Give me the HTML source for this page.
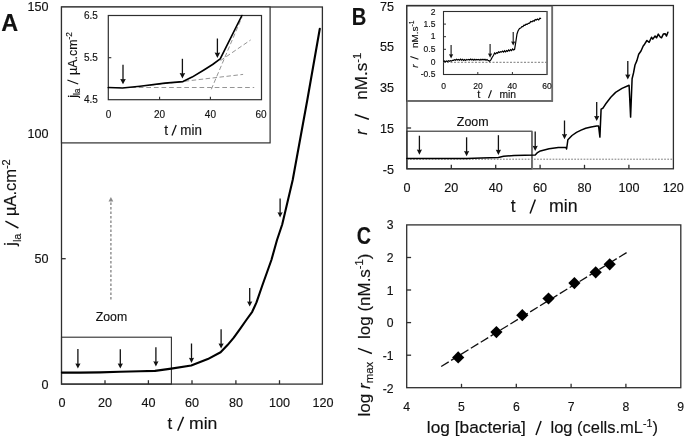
<!DOCTYPE html>
<html><head><meta charset="utf-8"><style>
html,body{margin:0;padding:0;background:#fff;}
body{width:685px;height:438px;overflow:hidden;}
svg{display:block;font-family:"Liberation Sans", sans-serif;filter:grayscale(1);}
text{stroke:#111;stroke-width:0.15px;paint-order:stroke;}
</style></head><body>
<svg width="685" height="438" viewBox="0 0 685 438">
<rect x="0" y="0" width="685" height="438" fill="#fff"/>
<rect x="61.50" y="7.00" width="260.90" height="377.10" fill="none" stroke="#2e2e2e" stroke-width="1.3"/>
<line x1="61.50" y1="133.00" x2="65.70" y2="133.00" stroke="#2e2e2e" stroke-width="1.3" stroke-linecap="butt"/>
<line x1="61.50" y1="258.70" x2="65.70" y2="258.70" stroke="#2e2e2e" stroke-width="1.3" stroke-linecap="butt"/>
<line x1="105.00" y1="384.10" x2="105.00" y2="380.20" stroke="#2e2e2e" stroke-width="1.3" stroke-linecap="butt"/>
<line x1="148.40" y1="384.10" x2="148.40" y2="380.20" stroke="#2e2e2e" stroke-width="1.3" stroke-linecap="butt"/>
<line x1="192.00" y1="384.10" x2="192.00" y2="380.20" stroke="#2e2e2e" stroke-width="1.3" stroke-linecap="butt"/>
<line x1="235.90" y1="384.10" x2="235.90" y2="380.20" stroke="#2e2e2e" stroke-width="1.3" stroke-linecap="butt"/>
<line x1="279.50" y1="384.10" x2="279.50" y2="380.20" stroke="#2e2e2e" stroke-width="1.3" stroke-linecap="butt"/>
<text x="48.40" y="11.41" font-size="12.6" text-anchor="end" fill="#111">150</text>
<text x="48.40" y="138.11" font-size="12.6" text-anchor="end" fill="#111">100</text>
<text x="48.40" y="262.81" font-size="12.6" text-anchor="end" fill="#111">50</text>
<text x="48.40" y="388.91" font-size="12.6" text-anchor="end" fill="#111">0</text>
<text x="61.90" y="406.81" font-size="12.6" text-anchor="middle" fill="#111">0</text>
<text x="105.00" y="406.81" font-size="12.6" text-anchor="middle" fill="#111">20</text>
<text x="148.40" y="406.81" font-size="12.6" text-anchor="middle" fill="#111">40</text>
<text x="192.00" y="406.81" font-size="12.6" text-anchor="middle" fill="#111">60</text>
<text x="235.90" y="406.81" font-size="12.6" text-anchor="middle" fill="#111">80</text>
<text x="279.50" y="406.81" font-size="12.6" text-anchor="middle" fill="#111">100</text>
<text x="323.00" y="406.81" font-size="12.6" text-anchor="middle" fill="#111">120</text>
<text id="Ax_t" x="167.40" y="429.30" font-size="17" fill="#111">t</text>
<line x1="177.70" y1="430.80" x2="183.50" y2="416.90" stroke="#111" stroke-width="1.5" stroke-linecap="butt"/>
<text id="Ax_min" x="189.02" y="429.30" font-size="17" fill="#111" textLength="28.42" lengthAdjust="spacingAndGlyphs">min</text>
<text id="Ay_j" x="0" y="0" transform="translate(16.30,245.64) rotate(-90)" font-size="16.5" fill="#111" textLength="12.10" lengthAdjust="spacingAndGlyphs">j<tspan font-size="11.5" dy="4.3">la</tspan></text>
<line x1="18.40" y1="228.00" x2="5.40" y2="221.10" stroke="#111" stroke-width="1.5" stroke-linecap="butt"/>
<text id="Ay_u" x="0" y="0" transform="translate(16.30,216.11) rotate(-90)" font-size="16.5" fill="#111" textLength="56.84" lengthAdjust="spacingAndGlyphs">µA.cm<tspan font-size="11" dy="-6.5">-2</tspan></text>
<text id="A_let" x="1.20" y="30.80" font-size="24" font-weight="bold" fill="#111" textLength="16.92" lengthAdjust="spacingAndGlyphs">A</text>
<text id="A_zoom" x="95.78" y="321.00" font-size="12.6" fill="#111" textLength="31.42" lengthAdjust="spacingAndGlyphs">Zoom</text>
<line x1="110.90" y1="299.40" x2="110.90" y2="202.00" stroke="#8a8a8a" stroke-width="1.4" stroke-linecap="butt" stroke-dasharray="2.5 2"/>
<polygon points="108.5,201.4 113.3,201.4 110.9,196.9" fill="#8a8a8a"/>
<rect x="61.50" y="337.20" width="109.90" height="46.90" fill="none" stroke="#2e2e2e" stroke-width="1.1"/>
<polyline points="61.90,372.60 80.00,372.60 100.00,372.40 120.00,371.80 140.00,371.30 155.00,370.90 171.30,368.60 191.20,365.50 207.80,359.10 220.60,352.30 227.50,345.10 233.80,337.60 240.10,328.80 246.30,320.00 252.20,311.80 256.50,302.40 262.30,285.50 271.40,260.00 277.00,240.00 282.20,224.50 292.70,180.00 307.30,100.00 319.80,28.80" fill="none" stroke="#000" stroke-width="2.1" stroke-linejoin="round" stroke-linecap="round"/>
<line x1="77.90" y1="349.10" x2="77.90" y2="365.48" stroke="#111" stroke-width="1.3" stroke-linecap="butt"/>
<polygon points="75.30,363.40 77.90,363.82 80.50,363.40 77.90,368.60" fill="#111"/>
<line x1="120.30" y1="349.20" x2="120.30" y2="365.48" stroke="#111" stroke-width="1.3" stroke-linecap="butt"/>
<polygon points="117.70,363.40 120.30,363.82 122.90,363.40 120.30,368.60" fill="#111"/>
<line x1="155.90" y1="347.20" x2="155.90" y2="363.38" stroke="#111" stroke-width="1.3" stroke-linecap="butt"/>
<polygon points="153.30,361.30 155.90,361.72 158.50,361.30 155.90,366.50" fill="#111"/>
<line x1="191.50" y1="343.50" x2="191.50" y2="359.88" stroke="#111" stroke-width="1.3" stroke-linecap="butt"/>
<polygon points="188.90,357.80 191.50,358.22 194.10,357.80 191.50,363.00" fill="#111"/>
<line x1="221.10" y1="329.30" x2="221.10" y2="345.48" stroke="#111" stroke-width="1.3" stroke-linecap="butt"/>
<polygon points="218.50,343.40 221.10,343.82 223.70,343.40 221.10,348.60" fill="#111"/>
<line x1="249.70" y1="288.10" x2="249.70" y2="303.48" stroke="#111" stroke-width="1.3" stroke-linecap="butt"/>
<polygon points="247.10,301.40 249.70,301.82 252.30,301.40 249.70,306.60" fill="#111"/>
<line x1="280.10" y1="198.50" x2="280.10" y2="214.38" stroke="#111" stroke-width="1.3" stroke-linecap="butt"/>
<polygon points="277.50,212.30 280.10,212.72 282.70,212.30 280.10,217.50" fill="#111"/>
<rect x="61.50" y="7.00" width="208.60" height="135.90" fill="#fff" stroke="#2e2e2e" stroke-width="1.2"/>
<rect x="108.30" y="15.50" width="153.20" height="84.20" fill="none" stroke="#2e2e2e" stroke-width="1.2"/>
<line x1="108.30" y1="57.70" x2="111.30" y2="57.70" stroke="#2e2e2e" stroke-width="1.1" stroke-linecap="butt"/>
<line x1="159.60" y1="99.70" x2="159.60" y2="96.70" stroke="#2e2e2e" stroke-width="1.1" stroke-linecap="butt"/>
<line x1="210.40" y1="99.70" x2="210.40" y2="96.70" stroke="#2e2e2e" stroke-width="1.1" stroke-linecap="butt"/>
<line x1="108.30" y1="87.50" x2="254.20" y2="87.50" stroke="#959595" stroke-width="1.1" stroke-linecap="butt" stroke-dasharray="4.7 2.9"/>
<line x1="150.00" y1="85.30" x2="243.10" y2="74.40" stroke="#959595" stroke-width="1.0" stroke-linecap="butt" stroke-dasharray="4.5 2.5"/>
<line x1="220.50" y1="60.60" x2="250.60" y2="40.00" stroke="#959595" stroke-width="1.0" stroke-linecap="butt" stroke-dasharray="4.5 2.5"/>
<line x1="211.30" y1="89.30" x2="242.00" y2="17.00" stroke="#959595" stroke-width="1.0" stroke-linecap="butt" stroke-dasharray="4.5 2.5"/>
<polyline points="108.30,87.50 122.50,88.00 140.00,86.20 165.00,83.10 183.00,81.60 192.10,77.10 203.50,70.20 212.60,64.50 220.20,58.80 241.90,15.50" fill="none" stroke="#000" stroke-width="1.65" stroke-linejoin="round" stroke-linecap="round"/>
<line x1="123.00" y1="64.70" x2="123.00" y2="81.06" stroke="#111" stroke-width="1.3" stroke-linecap="butt"/>
<polygon points="120.20,78.90 123.00,79.33 125.80,78.90 123.00,84.30" fill="#111"/>
<line x1="182.40" y1="58.80" x2="182.40" y2="75.16" stroke="#111" stroke-width="1.3" stroke-linecap="butt"/>
<polygon points="179.60,73.00 182.40,73.43 185.20,73.00 182.40,78.40" fill="#111"/>
<line x1="217.40" y1="38.50" x2="217.40" y2="54.76" stroke="#111" stroke-width="1.3" stroke-linecap="butt"/>
<polygon points="214.60,52.60 217.40,53.03 220.20,52.60 217.40,58.00" fill="#111"/>
<text x="97.90" y="19.18" font-size="10.0" text-anchor="end" fill="#111">6.5</text>
<text x="97.90" y="60.98" font-size="10.0" text-anchor="end" fill="#111">5.5</text>
<text x="97.90" y="103.18" font-size="10.0" text-anchor="end" fill="#111">4.5</text>
<text x="108.50" y="118.03" font-size="10.0" text-anchor="middle" fill="#111">0</text>
<text x="159.50" y="118.03" font-size="10.0" text-anchor="middle" fill="#111">20</text>
<text x="210.40" y="118.03" font-size="10.0" text-anchor="middle" fill="#111">40</text>
<text x="261.10" y="118.03" font-size="10.0" text-anchor="middle" fill="#111">60</text>
<text id="IAx_t" x="164.30" y="134.50" font-size="13.8" fill="#111">t</text>
<line x1="172.00" y1="135.40" x2="176.20" y2="124.90" stroke="#111" stroke-width="1.3" stroke-linecap="butt"/>
<text id="IAx_min" x="180.31" y="134.50" font-size="13.8" fill="#111" textLength="21.56" lengthAdjust="spacingAndGlyphs">min</text>
<text id="IAy_j" x="0" y="0" transform="translate(77.00,97.79) rotate(-90)" font-size="12.2" fill="#111" textLength="9.29" lengthAdjust="spacingAndGlyphs">j<tspan font-size="8.5" dy="3.3">la</tspan></text>
<line x1="78.20" y1="84.00" x2="67.40" y2="80.00" stroke="#111" stroke-width="1.3" stroke-linecap="butt"/>
<text id="IAy_u" x="0" y="0" transform="translate(77.00,74.91) rotate(-90)" font-size="12.2" fill="#111" textLength="42.86" lengthAdjust="spacingAndGlyphs">µA.cm<tspan font-size="8.2" dy="-4.8">-2</tspan></text>
<rect x="406.90" y="5.50" width="266.50" height="163.30" fill="none" stroke="#2e2e2e" stroke-width="1.3"/>
<line x1="451.30" y1="168.80" x2="451.30" y2="164.80" stroke="#2e2e2e" stroke-width="1.3" stroke-linecap="butt"/>
<line x1="495.70" y1="168.80" x2="495.70" y2="164.80" stroke="#2e2e2e" stroke-width="1.3" stroke-linecap="butt"/>
<line x1="540.10" y1="168.80" x2="540.10" y2="164.80" stroke="#2e2e2e" stroke-width="1.3" stroke-linecap="butt"/>
<line x1="584.50" y1="168.80" x2="584.50" y2="164.80" stroke="#2e2e2e" stroke-width="1.3" stroke-linecap="butt"/>
<line x1="628.90" y1="168.80" x2="628.90" y2="164.80" stroke="#2e2e2e" stroke-width="1.3" stroke-linecap="butt"/>
<line x1="406.90" y1="128.00" x2="411.10" y2="128.00" stroke="#2e2e2e" stroke-width="1.3" stroke-linecap="butt"/>
<text x="394.00" y="10.71" font-size="12.6" text-anchor="end" fill="#111">75</text>
<text x="394.00" y="50.91" font-size="12.6" text-anchor="end" fill="#111">55</text>
<text x="394.00" y="91.81" font-size="12.6" text-anchor="end" fill="#111">35</text>
<text x="394.00" y="132.66" font-size="12.6" text-anchor="end" fill="#111">15</text>
<text x="394.00" y="173.71" font-size="12.6" text-anchor="end" fill="#111">-5</text>
<text x="406.90" y="191.71" font-size="12.6" text-anchor="middle" fill="#111">0</text>
<text x="451.30" y="191.71" font-size="12.6" text-anchor="middle" fill="#111">20</text>
<text x="495.70" y="191.71" font-size="12.6" text-anchor="middle" fill="#111">40</text>
<text x="540.10" y="191.71" font-size="12.6" text-anchor="middle" fill="#111">60</text>
<text x="584.50" y="191.71" font-size="12.6" text-anchor="middle" fill="#111">80</text>
<text x="628.90" y="191.71" font-size="12.6" text-anchor="middle" fill="#111">100</text>
<text x="673.30" y="191.71" font-size="12.6" text-anchor="middle" fill="#111">120</text>
<text id="Bx_t" x="510.70" y="211.90" font-size="17.5" fill="#111">t</text>
<line x1="530.10" y1="213.50" x2="535.30" y2="199.60" stroke="#111" stroke-width="1.5" stroke-linecap="butt"/>
<text id="Bx_min" x="548.99" y="211.90" font-size="17.5" fill="#111" textLength="28.61" lengthAdjust="spacingAndGlyphs">min</text>
<text id="By_r" x="0" y="0" transform="translate(367.20,134.90) rotate(-90)" font-size="16" font-style="italic" fill="#111">r</text>
<line x1="368.90" y1="119.20" x2="354.80" y2="114.50" stroke="#111" stroke-width="1.5" stroke-linecap="butt"/>
<text id="By_n" x="0" y="0" transform="translate(367.20,99.76) rotate(-90)" font-size="16" fill="#111" textLength="46.88" lengthAdjust="spacingAndGlyphs">nM.s<tspan font-size="10.5" dy="-6.2">-1</tspan></text>
<text id="B_let" x="351.73" y="24.80" font-size="24.3" font-weight="bold" fill="#111" textLength="14.59" lengthAdjust="spacingAndGlyphs">B</text>
<rect x="406.90" y="131.20" width="124.90" height="37.60" fill="none" stroke="#2e2e2e" stroke-width="1.1"/>
<line x1="532.20" y1="131.20" x2="532.20" y2="168.80" stroke="#777" stroke-width="1.7" stroke-linecap="butt"/>
<text id="B_zoom" x="456.78" y="126.00" font-size="12.6" fill="#111" textLength="31.87" lengthAdjust="spacingAndGlyphs">Zoom</text>
<line x1="406.90" y1="159.20" x2="673.30" y2="159.20" stroke="#7a7a7a" stroke-width="1.0" stroke-linecap="butt" stroke-dasharray="1.7 1.4"/>
<polyline points="406.90,158.60 466.80,158.60 481.30,158.00 498.40,157.50 503.60,156.20 514.10,155.50 535.20,155.10 537.10,152.90 540.40,150.90 549.10,148.80 558.30,147.60 566.00,147.40 566.60,149.00 567.90,139.70 572.00,135.50 576.50,132.40 581.10,130.10 585.70,128.20 591.10,126.90 596.60,126.00 598.60,126.10 599.90,137.10 601.10,109.10 602.80,108.30 606.00,103.50 610.80,97.20 615.60,92.40 622.00,88.40 629.10,85.20 630.60,117.10 632.10,78.80 633.50,73.00 635.00,65.00 636.90,60.60 638.70,54.20 641.00,51.00 643.20,46.00 644.60,44.20 646.90,40.50 649.20,42.30 651.50,37.30 652.80,39.10 655.10,36.00 656.50,37.80 658.30,34.10 660.10,36.90 661.50,37.80 663.30,34.10 665.10,33.70 666.50,36.00 667.90,32.30" fill="none" stroke="#000" stroke-width="1.5" stroke-linejoin="round" stroke-linecap="round"/>
<line x1="419.40" y1="135.70" x2="419.40" y2="151.58" stroke="#111" stroke-width="1.3" stroke-linecap="butt"/>
<polygon points="416.80,149.50 419.40,149.92 422.00,149.50 419.40,154.70" fill="#111"/>
<line x1="466.60" y1="137.30" x2="466.60" y2="153.08" stroke="#111" stroke-width="1.3" stroke-linecap="butt"/>
<polygon points="464.00,151.00 466.60,151.42 469.20,151.00 466.60,156.20" fill="#111"/>
<line x1="498.40" y1="135.20" x2="498.40" y2="151.78" stroke="#111" stroke-width="1.3" stroke-linecap="butt"/>
<polygon points="495.80,149.70 498.40,150.12 501.00,149.70 498.40,154.90" fill="#111"/>
<line x1="535.20" y1="131.60" x2="535.20" y2="147.88" stroke="#111" stroke-width="1.3" stroke-linecap="butt"/>
<polygon points="532.60,145.80 535.20,146.22 537.80,145.80 535.20,151.00" fill="#111"/>
<line x1="564.50" y1="120.50" x2="564.50" y2="136.18" stroke="#111" stroke-width="1.3" stroke-linecap="butt"/>
<polygon points="561.90,134.10 564.50,134.52 567.10,134.10 564.50,139.30" fill="#111"/>
<line x1="596.70" y1="102.00" x2="596.70" y2="117.98" stroke="#111" stroke-width="1.3" stroke-linecap="butt"/>
<polygon points="594.10,115.90 596.70,116.32 599.30,115.90 596.70,121.10" fill="#111"/>
<line x1="627.80" y1="61.10" x2="627.80" y2="76.48" stroke="#111" stroke-width="1.3" stroke-linecap="butt"/>
<polygon points="625.20,74.40 627.80,74.82 630.40,74.40 627.80,79.60" fill="#111"/>
<rect x="406.80" y="5.80" width="145.50" height="95.10" fill="#fff" stroke="#2e2e2e" stroke-width="1.4"/>
<line x1="406.80" y1="100.90" x2="552.30" y2="100.90" stroke="#6a6a6a" stroke-width="1.6" stroke-linecap="butt"/>
<line x1="552.30" y1="5.80" x2="552.30" y2="101.60" stroke="#6a6a6a" stroke-width="1.6" stroke-linecap="butt"/>
<rect x="443.50" y="11.50" width="103.60" height="63.00" fill="none" stroke="#2e2e2e" stroke-width="1.1"/>
<line x1="547.10" y1="11.50" x2="547.10" y2="74.50" stroke="#777" stroke-width="1.5" stroke-linecap="butt"/>
<line x1="443.50" y1="24.10" x2="446.00" y2="24.10" stroke="#2e2e2e" stroke-width="1.0" stroke-linecap="butt"/>
<line x1="443.50" y1="36.70" x2="446.00" y2="36.70" stroke="#2e2e2e" stroke-width="1.0" stroke-linecap="butt"/>
<line x1="443.50" y1="49.30" x2="446.00" y2="49.30" stroke="#2e2e2e" stroke-width="1.0" stroke-linecap="butt"/>
<line x1="443.50" y1="62.00" x2="446.00" y2="62.00" stroke="#2e2e2e" stroke-width="1.0" stroke-linecap="butt"/>
<line x1="477.80" y1="74.50" x2="477.80" y2="72.00" stroke="#2e2e2e" stroke-width="1.0" stroke-linecap="butt"/>
<line x1="512.40" y1="74.50" x2="512.40" y2="72.00" stroke="#2e2e2e" stroke-width="1.0" stroke-linecap="butt"/>
<text x="435.40" y="14.64" font-size="8.5" text-anchor="end" fill="#111">2</text>
<text x="435.40" y="26.84" font-size="8.5" text-anchor="end" fill="#111">1.5</text>
<text x="435.40" y="39.44" font-size="8.5" text-anchor="end" fill="#111">1</text>
<text x="435.40" y="51.94" font-size="8.5" text-anchor="end" fill="#111">0.5</text>
<text x="435.40" y="64.84" font-size="8.5" text-anchor="end" fill="#111">0</text>
<text x="435.40" y="77.44" font-size="8.5" text-anchor="end" fill="#111">-0.5</text>
<text x="443.50" y="88.84" font-size="8.5" text-anchor="middle" fill="#111">0</text>
<text x="478.10" y="88.84" font-size="8.5" text-anchor="middle" fill="#111">20</text>
<text x="512.30" y="88.84" font-size="8.5" text-anchor="middle" fill="#111">40</text>
<text x="547.00" y="88.84" font-size="8.5" text-anchor="middle" fill="#111">60</text>
<text id="IBx_t" x="477.20" y="97.70" font-size="11" fill="#111">t</text>
<line x1="488.50" y1="98.10" x2="491.40" y2="90.30" stroke="#111" stroke-width="1.1" stroke-linecap="butt"/>
<text id="IBx_min" x="499.47" y="97.70" font-size="11" fill="#111" textLength="16.63" lengthAdjust="spacingAndGlyphs">min</text>
<text id="IBy_r" x="0" y="0" transform="translate(417.70,67.80) rotate(-90)" font-size="9.8" font-style="italic" fill="#111">r</text>
<line x1="418.40" y1="59.30" x2="410.40" y2="56.50" stroke="#111" stroke-width="1.1" stroke-linecap="butt"/>
<text id="IBy_n" x="0" y="0" transform="translate(417.70,48.12) rotate(-90)" font-size="9.8" fill="#111" textLength="27.56" lengthAdjust="spacingAndGlyphs">nM.s<tspan font-size="6.5" dy="-3.8">-1</tspan></text>
<line x1="443.50" y1="62.30" x2="547.10" y2="62.30" stroke="#7a7a7a" stroke-width="1.0" stroke-linecap="butt" stroke-dasharray="2 1.5"/>
<polyline points="443.50,61.62 444.50,61.04 445.50,61.73 446.50,61.01 447.50,61.59 448.50,60.77 449.50,61.25 450.50,60.61 451.50,61.11 452.50,60.33 453.50,60.33 454.50,59.61 455.52,60.17 456.53,59.18 457.55,59.99 458.56,59.51 459.58,60.26 460.59,59.09 461.61,60.22 462.62,59.39 463.64,60.43 464.66,59.57 465.67,60.35 466.69,59.42 467.70,59.94 468.72,59.51 469.73,60.02 470.75,59.10 471.77,59.93 472.78,59.22 473.80,60.18 474.81,59.33 475.83,60.12 476.84,59.49 477.86,59.83 478.88,59.39 479.89,60.16 480.91,59.26 481.92,59.95 482.94,59.16 483.95,60.01 484.97,59.30 485.98,60.19 487.00,59.45 488.30,60.58 489.60,61.33 491.00,59.62 492.20,57.25 493.40,55.52 494.60,52.96 495.60,53.89 496.60,52.66 497.60,53.13 498.60,51.86 499.60,52.56 500.60,51.63 501.60,52.09 502.60,51.11 503.60,52.15 504.60,50.77 505.60,51.82 506.60,50.54 507.60,51.30 508.60,49.96 509.60,50.83 510.60,49.65 511.60,50.60 512.60,48.94 513.60,49.96 514.60,49.30 515.80,42.00 517.00,34.00 518.00,31.00 519.50,28.40 520.70,28.06 521.90,26.60 522.93,26.66 523.97,25.19 525.00,25.27 526.10,24.14 527.20,24.37 528.30,23.34 529.53,23.16 530.77,21.53 532.00,21.87 533.08,20.79 534.15,21.16 535.22,19.44 536.30,20.04 537.50,19.05 538.70,19.88 539.90,18.23 541.10,18.60" fill="none" stroke="#000" stroke-width="1.2" stroke-linejoin="miter" stroke-linecap="butt"/>
<line x1="451.10" y1="45.10" x2="451.10" y2="55.88" stroke="#111" stroke-width="1.1" stroke-linecap="butt"/>
<polygon points="449.00,54.20 451.10,54.54 453.20,54.20 451.10,58.40" fill="#111"/>
<line x1="490.10" y1="44.10" x2="490.10" y2="55.18" stroke="#111" stroke-width="1.1" stroke-linecap="butt"/>
<polygon points="488.00,53.50 490.10,53.84 492.20,53.50 490.10,57.70" fill="#111"/>
<line x1="513.20" y1="32.10" x2="513.20" y2="43.08" stroke="#111" stroke-width="1.1" stroke-linecap="butt"/>
<polygon points="511.10,41.40 513.20,41.74 515.30,41.40 513.20,45.60" fill="#111"/>
<rect x="406.70" y="224.90" width="274.10" height="162.80" fill="none" stroke="#2e2e2e" stroke-width="1.3"/>
<line x1="406.70" y1="257.50" x2="411.10" y2="257.50" stroke="#2e2e2e" stroke-width="1.3" stroke-linecap="butt"/>
<line x1="406.70" y1="290.00" x2="411.10" y2="290.00" stroke="#2e2e2e" stroke-width="1.3" stroke-linecap="butt"/>
<line x1="406.70" y1="322.60" x2="411.10" y2="322.60" stroke="#2e2e2e" stroke-width="1.3" stroke-linecap="butt"/>
<line x1="406.70" y1="355.20" x2="411.10" y2="355.20" stroke="#2e2e2e" stroke-width="1.3" stroke-linecap="butt"/>
<line x1="461.50" y1="387.70" x2="461.50" y2="383.80" stroke="#2e2e2e" stroke-width="1.3" stroke-linecap="butt"/>
<line x1="516.30" y1="387.70" x2="516.30" y2="383.80" stroke="#2e2e2e" stroke-width="1.3" stroke-linecap="butt"/>
<line x1="571.10" y1="387.70" x2="571.10" y2="383.80" stroke="#2e2e2e" stroke-width="1.3" stroke-linecap="butt"/>
<line x1="625.90" y1="387.70" x2="625.90" y2="383.80" stroke="#2e2e2e" stroke-width="1.3" stroke-linecap="butt"/>
<text x="393.60" y="229.17" font-size="12.2" text-anchor="end" fill="#111">3</text>
<text x="393.60" y="262.37" font-size="12.2" text-anchor="end" fill="#111">2</text>
<text x="393.60" y="294.77" font-size="12.2" text-anchor="end" fill="#111">1</text>
<text x="393.60" y="327.27" font-size="12.2" text-anchor="end" fill="#111">0</text>
<text x="393.60" y="359.77" font-size="12.2" text-anchor="end" fill="#111">-1</text>
<text x="393.60" y="392.57" font-size="12.2" text-anchor="end" fill="#111">-2</text>
<text x="406.70" y="410.67" font-size="12.2" text-anchor="middle" fill="#111">4</text>
<text x="461.50" y="410.67" font-size="12.2" text-anchor="middle" fill="#111">5</text>
<text x="516.30" y="410.67" font-size="12.2" text-anchor="middle" fill="#111">6</text>
<text x="571.10" y="410.67" font-size="12.2" text-anchor="middle" fill="#111">7</text>
<text x="625.90" y="410.67" font-size="12.2" text-anchor="middle" fill="#111">8</text>
<text x="680.70" y="410.67" font-size="12.2" text-anchor="middle" fill="#111">9</text>
<text id="Cx_a" x="426.89" y="433.30" font-size="16.8" fill="#111" textLength="99.03" lengthAdjust="spacingAndGlyphs">log [bacteria]</text>
<line x1="536.00" y1="435.00" x2="541.10" y2="421.00" stroke="#111" stroke-width="1.5" stroke-linecap="butt"/>
<text id="Cx_b" x="550.49" y="433.30" font-size="16.8" fill="#111" textLength="107.43" lengthAdjust="spacingAndGlyphs">log (cells.mL<tspan font-size="10.8" dy="-6.5">-1</tspan><tspan dy="6.5">)</tspan></text>
<text id="Cy_a" x="0" y="0" transform="translate(369.60,416.51) rotate(-90)" font-size="16.5" fill="#111" textLength="54.80" lengthAdjust="spacingAndGlyphs">log <tspan font-style="italic">r</tspan><tspan font-size="11" dy="3.5">max</tspan></text>
<line x1="371.90" y1="353.50" x2="358.00" y2="348.40" stroke="#111" stroke-width="1.5" stroke-linecap="butt"/>
<text id="Cy_b" x="0" y="0" transform="translate(369.60,339.01) rotate(-90)" font-size="16.5" fill="#111" textLength="85.43" lengthAdjust="spacingAndGlyphs">log (nM.s<tspan font-size="10.8" dy="-6.5">-1</tspan><tspan dy="6.5">)</tspan></text>
<text id="C_let" x="356.66" y="244.00" font-size="24.3" font-weight="bold" fill="#111" textLength="14.25" lengthAdjust="spacingAndGlyphs">C</text>
<line x1="441.20" y1="366.50" x2="626.60" y2="252.60" stroke="#111" stroke-width="1.3" stroke-linecap="butt" stroke-dasharray="8.8 2.8"/>
<polygon points="458.20,351.30 464.30,357.40 458.20,363.50 452.10,357.40" fill="#000"/>
<polygon points="496.40,326.00 502.50,332.10 496.40,338.20 490.30,332.10" fill="#000"/>
<polygon points="522.30,309.10 528.40,315.20 522.30,321.30 516.20,315.20" fill="#000"/>
<polygon points="548.50,292.40 554.60,298.50 548.50,304.60 542.40,298.50" fill="#000"/>
<polygon points="574.40,277.00 580.50,283.10 574.40,289.20 568.30,283.10" fill="#000"/>
<polygon points="595.70,266.20 601.80,272.30 595.70,278.40 589.60,272.30" fill="#000"/>
<polygon points="609.70,258.20 615.80,264.30 609.70,270.40 603.60,264.30" fill="#000"/>
</svg>
</body></html>
